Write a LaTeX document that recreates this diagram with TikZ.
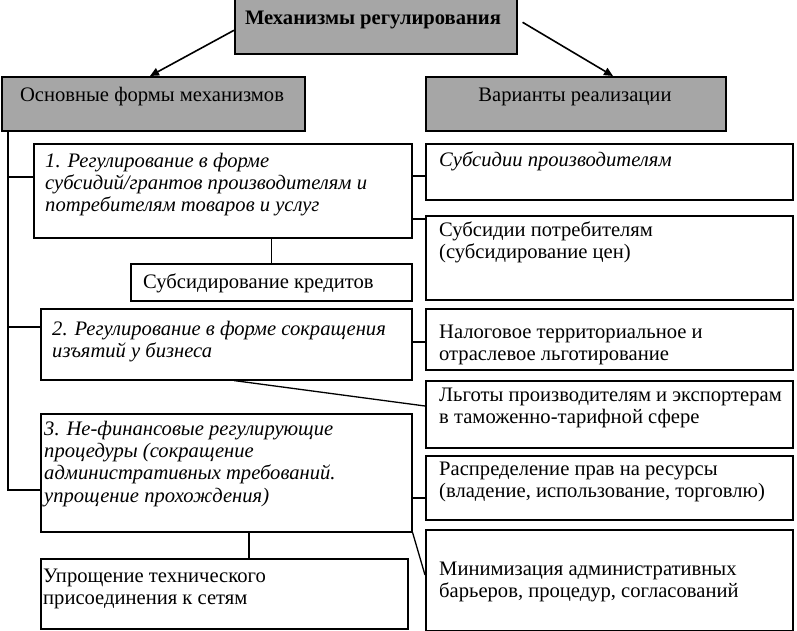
\documentclass[tikz,border=0pt]{standalone}
\usepackage{fontspec}
\setmainfont{Liberation Serif}
\usetikzlibrary{arrows.meta,calc}
\newcommand\fs{\fontsize{20.6}{22.3}\selectfont}
\definecolor{boxgray}{RGB}{166,166,166}
\tikzset{
  box/.style={draw, line width=1.6pt, inner sep=0pt, anchor=north west},
  graybox/.style={box, fill=boxgray},
  txt/.style={anchor=north west, inner sep=0pt, align=left, font=\fs},
  ltxt/.style={anchor=base west, inner sep=0pt, font=\fs},
  ctxt/.style={anchor=base, inner sep=0pt, font=\fs},
  conn/.style={line width=1.3pt},
  arr/.style={line width=1.6pt, -{Triangle[length=9pt,width=8pt]}}
}
\begin{document}
\begin{tikzpicture}[x=1pt,y=-1pt]
\useasboundingbox (0,0) rectangle (797,631);
% gray header boxes
\node[graybox, minimum width=282, minimum height=55] (title) at (234,-2) {};
\node[ctxt, font=\fs\bfseries] (titlet) at (373,25) {Механизмы регулирования};
\node[graybox, minimum width=303, minimum height=54] (osn) at (1,76) {};
\node[ctxt] (osnt) at (152,102) {Основные формы механизмов};
\node[graybox, minimum width=300, minimum height=54] (var) at (425,76) {};
\node[ctxt] (vart) at (575,102) {Варианты реализации};
% left column
\node[box, minimum width=378, minimum height=94] (b1) at (33,143) {};
\node[txt] (b1t) at (45,151.5) {\itshape\strut 1. Регулирование в форме\\\itshape субсидий/грантов производителям и\\\itshape потребителям товаров и услуг};
\node[box, minimum width=281, minimum height=37] (kr) at (130,263) {};
\node[ltxt] (krt) at (143,288) {Субсидирование кредитов};
\node[box, minimum width=371, minimum height=71] (b2) at (40,308) {};
\node[txt] (b2t) at (52,319.5) {\itshape\strut 2. Регулирование в форме сокращения\\\itshape изъятий у бизнеса};
\node[box, minimum width=371, minimum height=118] (b3) at (40,413) {};
\node[txt] (b3t) at (44,419.5) {\itshape\strut 3. Не-финансовые регулирующие\\\itshape процедуры (сокращение\\\itshape административных требований.\\\itshape упрощение прохождения)};
\node[box, minimum width=367, minimum height=70] (tp) at (40,558) {};
\node[txt] (tpt) at (43,566.5) {\strut Упрощение технического\\присоединения к сетям};
% right column
\node[box, minimum width=367, minimum height=56] (sp) at (425,143) {};
\node[ltxt] (spt) at (439,167) {\itshape Субсидии производителям};
\node[box, minimum width=367, minimum height=84] (spot) at (425,215) {};
\node[txt] (spott) at (439,220.5) {\strut Субсидии потребителям\\(субсидирование цен)};
\node[box, minimum width=367, minimum height=61] (nal) at (425,308) {};
\node[txt] (nalt) at (439,322.5) {\strut Налоговое территориальное и\\отраслевое льготирование};
\node[box, minimum width=367, minimum height=67] (lg) at (425,380) {};
\node[txt] (lgt) at (439,385.5) {\strut Льготы производителям и экспортерам\\в таможенно-тарифной сфере};
\node[box, minimum width=367, minimum height=64] (rs) at (425,455) {};
\node[txt] (rst) at (439,459.5) {\strut Распределение прав на ресурсы\\(владение, использование, торговлю)};
\node[box, minimum width=367, minimum height=101] (mn) at (425,529) {};
\node[txt] (mnt) at (439,559.5) {\strut Минимизация административных\\барьеров, процедур, согласований};
% arrows
\draw[arr] ($(title.west)+(0,4)$) -- (osn.north -| 150,0);
\draw[arr] ($(title.east)+(5,-4)$) -- (var.north -| 613,0);
% trunk on the left
\coordinate (trunk) at (osn.south -| 8,0);
\draw[conn] (trunk) |- (b3.west |- 0,490);
\draw[conn] (trunk |- 0,177) -- (b1.west |- 0,177);
\draw[conn] (trunk |- 0,327) -- (b2.west |- 0,327);
% vertical links
\draw[conn] (b1.south -| kr.north) -- (kr.north);
\draw[conn] (b3.south -| 249,0) -- (tp.north -| 249,0);
% right links
\draw[conn] (b1.east |- 0,176) -- (sp.west |- 0,176);
\draw[conn] (b1.east |- 0,219) -- (spot.west |- 0,219);
\draw[conn] (b2.east |- 0,342) -- (nal.west |- 0,342);
\draw[conn] ($(b2.south)+(8,0)$) -- (lg.west |- 0,406);
\draw[conn] (b3.east |- 0,498) -- (rs.west |- 0,498);
\draw[conn] (b3.south east) -- (mn.west |- 0,575);
\end{tikzpicture}
\end{document}
